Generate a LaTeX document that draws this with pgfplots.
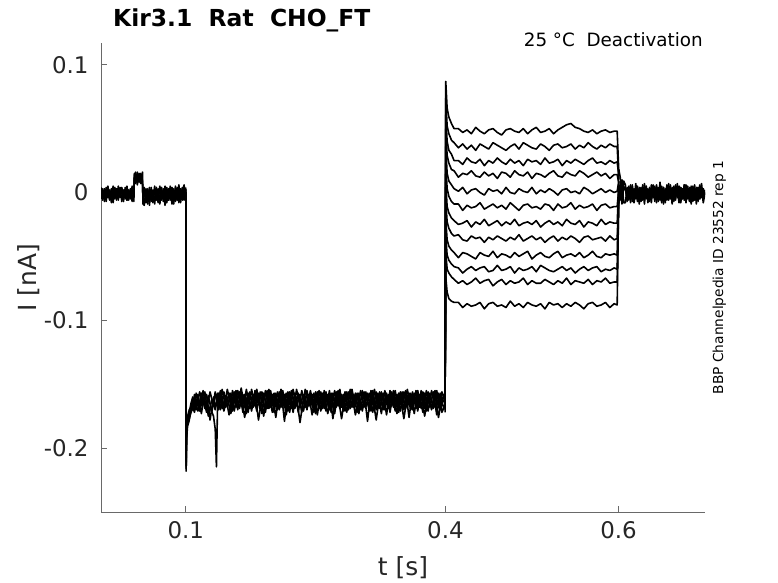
\documentclass[border=0pt]{standalone}
\usepackage{fontspec}
\setmainfont{DejaVu Sans}
\usepackage{pgfplots}
\usepackage{pgfplotstable}
\pgfplotsset{compat=1.18}
\definecolor{tickgray}{RGB}{38,38,38}
\definecolor{axgray}{RGB}{105,105,105}
\pgfplotsset{trace/.style={black, solid, line width=1.6bp, line join=round, no marks}}

% before the hyperpolarising step (t < 0.1 s)
\pgfplotstableread{
t a b c
0.002 0.004 -0.005 0.001
0.004 -0.006 0.003 -0.004
0.006 0.003 -0.007 0.002
0.008 -0.007 0.004 -0.003
0.010 0.005 -0.004 0.000
0.012 -0.005 0.002 -0.006
0.014 0.002 -0.008 0.003
0.016 -0.008 0.005 -0.002
0.018 0.004 -0.005 0.001
0.020 -0.006 0.003 -0.005
0.022 0.005 -0.006 0.002
0.024 -0.004 0.004 -0.003
0.026 0.003 -0.007 0.004
0.028 -0.007 0.002 -0.004
0.030 0.004 -0.005 0.001
0.032 -0.006 0.005 -0.006
0.034 0.002 -0.006 0.002
0.036 -0.005 0.003 -0.002
0.038 0.005 -0.007 0.003
0.040 -0.007 0.002 -0.004
0.0405 0.015 0.010 0.012
0.042 0.007 0.016 0.010
0.044 0.016 0.006 0.013
0.046 0.008 0.015 0.009
0.048 0.015 0.007 0.014
0.050 0.009 0.016 0.006
0.0505 -0.007 -0.009 -0.004
0.052 0.004 -0.010 0.001
0.054 -0.008 0.003 -0.006
0.056 0.003 -0.009 0.002
0.058 -0.010 0.004 -0.003
0.060 0.004 -0.007 0.001
0.062 -0.008 0.002 -0.005
0.064 0.005 -0.009 0.003
0.066 -0.006 0.004 -0.004
0.068 0.003 -0.008 0.002
0.070 -0.009 0.005 -0.006
0.072 0.004 -0.006 0.001
0.074 -0.007 0.003 -0.003
0.076 0.005 -0.010 0.004
0.078 -0.008 0.004 -0.005
0.080 0.003 -0.006 0.002
0.082 -0.006 0.005 -0.004
0.084 0.004 -0.009 0.003
0.086 -0.009 0.003 -0.002
0.088 0.005 -0.007 0.001
0.090 -0.006 0.004 -0.006
0.092 0.006 -0.008 0.002
0.094 -0.008 0.003 -0.004
0.096 0.004 -0.006 0.003
0.098 -0.006 0.006 -0.005
0.0998 0.003 -0.004 0.000
}\pre

% hyperpolarising step (0.1 s to 0.4 s), sweeps a-c
\pgfplotstableread{
t a b c
0.0998 0.003 -0.004 0.000
0.1000 0.000 0.000 0.000
0.1004 -0.218 -0.214 -0.205
0.1008 -0.190 -0.195 -0.185
0.1015 -0.182 -0.180 -0.178
0.1025 -0.176 -0.181 -0.174
0.104 -0.172 -0.177 -0.170
0.106 -0.165 -0.172 -0.168
0.108 -0.160 -0.169 -0.163
0.110 -0.166 -0.158 -0.170
0.112 -0.157 -0.170 -0.162
0.116 -0.168 -0.156 -0.171
0.120 -0.155 -0.166 -0.160
0.124 -0.170 -0.158 -0.172
0.128 -0.156 -0.178 -0.168
0.132 -0.167 -0.160 -0.175
0.134 -0.160 -0.168 -0.185
0.1354 -0.158 -0.165 -0.2146
0.1366 -0.166 -0.157 -0.170
0.140 -0.155 -0.170 -0.158
0.144 -0.169 -0.156 -0.171
0.148 -0.154 -0.168 -0.160
0.152 -0.167 -0.157 -0.173
0.156 -0.156 -0.171 -0.159
0.160 -0.170 -0.155 -0.168
0.164 -0.153 -0.166 -0.158
0.168 -0.168 -0.158 -0.176
0.172 -0.157 -0.172 -0.160
0.176 -0.171 -0.154 -0.169
0.180 -0.155 -0.167 -0.157
0.184 -0.166 -0.157 -0.178
0.188 -0.156 -0.173 -0.161
0.192 -0.172 -0.155 -0.170
0.196 -0.154 -0.169 -0.158
0.200 -0.167 -0.158 -0.172
0.204 -0.157 -0.176 -0.160
0.208 -0.170 -0.156 -0.169
0.212 -0.155 -0.168 -0.157
0.216 -0.169 -0.157 -0.174
0.220 -0.156 -0.172 -0.159
0.224 -0.172 -0.154 -0.168
0.228 -0.154 -0.167 -0.160
0.232 -0.167 -0.158 -0.180
0.236 -0.158 -0.171 -0.161
0.240 -0.170 -0.155 -0.169
0.244 -0.155 -0.168 -0.157
0.248 -0.168 -0.157 -0.172
0.252 -0.156 -0.174 -0.160
0.256 -0.171 -0.156 -0.170
0.260 -0.155 -0.169 -0.158
0.264 -0.166 -0.158 -0.173
0.268 -0.157 -0.172 -0.161
0.272 -0.173 -0.155 -0.168
0.276 -0.155 -0.167 -0.159
0.280 -0.168 -0.158 -0.177
0.284 -0.156 -0.171 -0.160
0.288 -0.170 -0.156 -0.169
0.292 -0.154 -0.168 -0.158
0.296 -0.167 -0.157 -0.174
0.300 -0.157 -0.173 -0.161
0.304 -0.171 -0.155 -0.168
0.308 -0.156 -0.168 -0.158
0.312 -0.169 -0.157 -0.171
0.316 -0.155 -0.172 -0.160
0.320 -0.170 -0.156 -0.178
0.324 -0.156 -0.169 -0.159
0.328 -0.168 -0.157 -0.170
0.332 -0.157 -0.174 -0.161
0.336 -0.172 -0.155 -0.169
0.340 -0.155 -0.168 -0.158
0.344 -0.167 -0.158 -0.173
0.348 -0.156 -0.171 -0.160
0.352 -0.170 -0.156 -0.177
0.356 -0.154 -0.168 -0.159
0.360 -0.168 -0.157 -0.170
0.364 -0.157 -0.173 -0.160
0.368 -0.171 -0.155 -0.168
0.372 -0.155 -0.169 -0.158
0.376 -0.169 -0.157 -0.175
0.380 -0.156 -0.171 -0.160
0.384 -0.170 -0.155 -0.169
0.388 -0.155 -0.168 -0.158
0.392 -0.168 -0.157 -0.176
0.396 -0.156 -0.172 -0.161
0.3996 -0.164 -0.166 -0.165
}\hyp

% hyperpolarising step, sweeps d-e
\pgfplotstableread{
t d e
0.0998 -0.002 0.004
0.1000 0.000 0.000
0.1004 -0.210 -0.216
0.101 -0.188 -0.192
0.102 -0.179 -0.183
0.104 -0.174 -0.178
0.107 -0.170 -0.166
0.110 -0.163 -0.172
0.114 -0.171 -0.158
0.118 -0.157 -0.173
0.122 -0.169 -0.156
0.126 -0.159 -0.175
0.130 -0.172 -0.162
0.134 -0.156 -0.170
0.138 -0.170 -0.157
0.142 -0.154 -0.169
0.146 -0.168 -0.159
0.150 -0.157 -0.174
0.154 -0.171 -0.155
0.158 -0.155 -0.168
0.162 -0.169 -0.156
0.166 -0.158 -0.172
0.170 -0.173 -0.154
0.174 -0.156 -0.169
0.178 -0.168 -0.158
0.182 -0.154 -0.171
0.186 -0.170 -0.156
0.190 -0.157 -0.175
0.194 -0.169 -0.155
0.198 -0.155 -0.168
0.202 -0.172 -0.157
0.206 -0.156 -0.170
0.210 -0.168 -0.154
0.214 -0.158 -0.179
0.218 -0.171 -0.156
0.222 -0.155 -0.169
0.226 -0.169 -0.157
0.230 -0.157 -0.172
0.234 -0.172 -0.155
0.238 -0.154 -0.168
0.242 -0.167 -0.158
0.246 -0.158 -0.174
0.250 -0.173 -0.156
0.254 -0.155 -0.169
0.258 -0.169 -0.157
0.262 -0.156 -0.171
0.266 -0.170 -0.155
0.270 -0.157 -0.177
0.274 -0.168 -0.156
0.278 -0.154 -0.169
0.282 -0.171 -0.158
0.286 -0.156 -0.172
0.290 -0.169 -0.154
0.294 -0.158 -0.168
0.298 -0.172 -0.157
0.302 -0.155 -0.170
0.306 -0.168 -0.156
0.310 -0.157 -0.179
0.314 -0.171 -0.155
0.318 -0.154 -0.168
0.322 -0.169 -0.157
0.326 -0.156 -0.173
0.330 -0.170 -0.155
0.334 -0.158 -0.169
0.338 -0.167 -0.156
0.342 -0.155 -0.171
0.346 -0.172 -0.157
0.350 -0.156 -0.168
0.354 -0.169 -0.155
0.358 -0.157 -0.176
0.362 -0.170 -0.156
0.366 -0.155 -0.169
0.370 -0.168 -0.158
0.374 -0.156 -0.172
0.378 -0.171 -0.155
0.382 -0.157 -0.168
0.386 -0.169 -0.156
0.390 -0.155 -0.174
0.394 -0.170 -0.157
0.398 -0.158 -0.169
0.3996 -0.162 -0.167
}\hypb

% test steps (0.4 s to 0.6 s), twelve sweeps
\pgfplotstableread{
t a b c d e f g h i j k l
0.3996 -0.161 -0.165 -0.158 -0.168 -0.163 -0.170 -0.156 -0.166 -0.162 -0.172 -0.159 -0.164
0.4004 0.087 0.074 0.061 0.050 0.036 0.023 0.008 -0.006 -0.021 -0.034 -0.046 -0.066
0.402 0.066 0.052 0.040 0.029 0.015 0.003 -0.011 -0.023 -0.037 -0.049 -0.060 -0.078
0.404 0.059 0.046 0.033 0.023 0.009 -0.003 -0.016 -0.028 -0.042 -0.053 -0.063 -0.083
0.407 0.054 0.041 0.030 0.018 0.006 -0.007 -0.020 -0.032 -0.045 -0.056 -0.066 -0.085
0.410 0.050 0.039 0.025 0.017 0.003 -0.009 -0.022 -0.034 -0.047 -0.058 -0.068 -0.086
0.415 0.050 0.035 0.025 0.012 0.001 -0.009 -0.025 -0.033 -0.051 -0.059 -0.071 -0.086
0.420 0.047 0.038 0.022 0.015 0.004 -0.014 -0.024 -0.037 -0.047 -0.063 -0.069 -0.090
0.425 0.049 0.034 0.027 0.014 -0.001 -0.010 -0.022 -0.038 -0.048 -0.060 -0.072 -0.087
0.430 0.046 0.037 0.024 0.017 0.002 -0.012 -0.027 -0.034 -0.050 -0.058 -0.070 -0.089
0.435 0.051 0.033 0.023 0.013 0.003 -0.011 -0.023 -0.036 -0.052 -0.061 -0.067 -0.088
0.440 0.048 0.038 0.026 0.012 0.000 -0.008 -0.025 -0.035 -0.047 -0.059 -0.071 -0.086
0.445 0.046 0.036 0.021 0.016 -0.002 -0.013 -0.021 -0.039 -0.049 -0.058 -0.069 -0.091
0.450 0.049 0.034 0.025 0.013 0.003 -0.011 -0.026 -0.035 -0.050 -0.062 -0.068 -0.087
0.455 0.050 0.039 0.023 0.015 0.001 -0.009 -0.024 -0.037 -0.046 -0.061 -0.073 -0.086
0.460 0.047 0.037 0.027 0.011 0.002 -0.012 -0.022 -0.034 -0.051 -0.057 -0.070 -0.089
0.465 0.045 0.035 0.024 0.016 -0.001 -0.010 -0.026 -0.036 -0.048 -0.061 -0.068 -0.088
0.470 0.049 0.033 0.022 0.015 0.004 -0.013 -0.023 -0.038 -0.049 -0.060 -0.072 -0.090
0.475 0.050 0.036 0.026 0.012 0.000 -0.008 -0.025 -0.035 -0.051 -0.058 -0.069 -0.085
0.480 0.048 0.038 0.023 0.017 -0.001 -0.011 -0.021 -0.037 -0.047 -0.063 -0.071 -0.089
0.485 0.047 0.034 0.025 0.014 0.003 -0.014 -0.026 -0.033 -0.050 -0.059 -0.070 -0.087
0.490 0.050 0.039 0.021 0.013 0.001 -0.010 -0.024 -0.038 -0.048 -0.061 -0.067 -0.090
0.495 0.046 0.037 0.026 0.016 0.000 -0.009 -0.023 -0.036 -0.046 -0.060 -0.072 -0.086
0.500 0.049 0.035 0.024 0.011 0.004 -0.012 -0.025 -0.034 -0.052 -0.058 -0.069 -0.088
0.505 0.051 0.034 0.025 0.015 -0.001 -0.011 -0.022 -0.037 -0.049 -0.062 -0.071 -0.089
0.510 0.047 0.038 0.022 0.014 0.002 -0.013 -0.027 -0.035 -0.047 -0.057 -0.071 -0.087
0.515 0.048 0.036 0.027 0.012 0.000 -0.009 -0.024 -0.039 -0.050 -0.059 -0.068 -0.091
0.520 0.050 0.033 0.023 0.015 0.003 -0.010 -0.022 -0.036 -0.051 -0.061 -0.070 -0.086
0.525 0.046 0.037 0.024 0.017 0.001 -0.014 -0.025 -0.034 -0.048 -0.062 -0.072 -0.088
0.530 0.049 0.038 0.026 0.013 -0.002 -0.009 -0.023 -0.038 -0.046 -0.060 -0.069 -0.087
0.535 0.051 0.035 0.021 0.012 0.002 -0.012 -0.026 -0.035 -0.051 -0.058 -0.071 -0.090
0.540 0.053 0.036 0.025 0.016 0.003 -0.011 -0.021 -0.037 -0.049 -0.061 -0.067 -0.087
0.545 0.054 0.038 0.023 0.014 0.000 -0.008 -0.024 -0.034 -0.048 -0.059 -0.072 -0.089
0.550 0.051 0.034 0.026 0.013 0.001 -0.013 -0.025 -0.036 -0.050 -0.063 -0.069 -0.086
0.555 0.050 0.037 0.024 0.017 -0.001 -0.010 -0.022 -0.039 -0.047 -0.060 -0.070 -0.088
0.560 0.048 0.035 0.022 0.015 0.004 -0.012 -0.027 -0.035 -0.051 -0.058 -0.071 -0.091
0.565 0.047 0.039 0.025 0.012 0.002 -0.011 -0.023 -0.034 -0.049 -0.061 -0.068 -0.087
0.570 0.049 0.036 0.027 0.014 -0.001 -0.009 -0.024 -0.037 -0.046 -0.059 -0.072 -0.086
0.575 0.046 0.034 0.023 0.016 0.001 -0.014 -0.026 -0.036 -0.050 -0.058 -0.069 -0.089
0.580 0.048 0.037 0.024 0.013 0.003 -0.010 -0.021 -0.035 -0.051 -0.062 -0.070 -0.088
0.585 0.049 0.035 0.022 0.015 0.000 -0.009 -0.025 -0.038 -0.048 -0.060 -0.067 -0.086
0.590 0.047 0.038 0.025 0.011 0.002 -0.012 -0.023 -0.034 -0.049 -0.061 -0.071 -0.090
0.595 0.048 0.036 0.023 0.014 0.000 -0.011 -0.024 -0.037 -0.048 -0.059 -0.070 -0.087
0.5985 0.048 0.036 0.024 0.014 0.001 -0.011 -0.024 -0.036 -0.049 -0.060 -0.070 -0.088
0.6004 0.016 0.010 0.013 0.007 0.009 0.003 0.006 0.001 -0.002 0.004 -0.004 0.000
}\steps

% after the test steps (t > 0.6 s)
\pgfplotstableread{
t a b c
0.6004 0.018 0.006 -0.008
0.602 0.012 -0.006 0.008
0.604 -0.004 0.010 -0.009
0.606 0.009 -0.008 0.005
0.608 0.006 -0.008 0.002
0.610 -0.007 0.004 -0.005
0.612 0.005 -0.006 0.003
0.614 -0.008 0.006 -0.003
0.616 0.004 -0.007 0.006
0.618 -0.006 0.003 -0.008
0.620 0.007 -0.005 0.001
0.622 -0.005 0.005 -0.007
0.624 0.003 -0.009 0.004
0.626 -0.007 0.004 -0.004
0.628 0.006 -0.006 0.002
0.630 -0.009 0.007 -0.006
0.632 0.005 -0.005 0.005
0.634 -0.006 0.003 -0.008
0.636 0.004 -0.007 0.003
0.638 -0.008 0.006 -0.005
0.640 0.006 -0.004 0.002
0.642 -0.005 0.005 -0.007
0.644 0.003 -0.008 0.006
0.646 -0.007 0.004 -0.003
0.648 0.008 -0.006 0.001
0.650 -0.006 0.005 -0.008
0.652 0.004 -0.009 0.004
0.654 -0.008 0.003 -0.004
0.656 0.005 -0.006 0.006
0.658 -0.005 0.007 -0.006
0.660 0.006 -0.005 0.002
0.662 -0.009 0.004 -0.007
0.664 0.003 -0.007 0.005
0.666 -0.006 0.006 -0.003
0.668 0.007 -0.004 0.001
0.670 -0.007 0.005 -0.008
0.672 0.004 -0.008 0.004
0.674 -0.005 0.003 -0.005
0.676 0.006 -0.006 0.006
0.678 -0.008 0.006 -0.004
0.680 0.005 -0.005 0.002
0.682 -0.006 0.004 -0.007
0.684 0.003 -0.009 0.005
0.686 -0.007 0.005 -0.003
0.688 0.006 -0.006 0.001
0.690 -0.009 0.004 -0.006
0.692 0.004 -0.007 0.004
0.694 -0.005 0.006 -0.005
0.696 0.007 -0.004 0.003
0.698 -0.006 0.003 -0.008
0.700 0.002 -0.002 0.000
}\post

\begin{document}
\begin{tikzpicture}
\begin{axis}[
  at={(101bp,71bp)}, anchor=south west,
  width=604bp, height=469bp, scale only axis,
  xmin=0.002, xmax=0.7, ymin=-0.25, ymax=0.117,
  axis x line*=bottom, axis y line*=left,
  axis line style={draw=axgray, line width=0.7bp, -},
  xtick={0.1,0.4,0.6}, xticklabels={0.1,0.4,0.6},
  ytick={-0.2,-0.1,0,0.1}, yticklabels={-0.2,-0.1,0,0.1},
  /pgf/number format/assume math mode=true,
  tick align=inside, major tick length=6bp,
  tick style={draw=axgray, line width=0.7bp},
  ticklabel style={font=\fontsize{23}{26}\selectfont, text=tickgray},
  xticklabel style={yshift=-6bp},
  yticklabel style={xshift=-9bp},
  xlabel={t [s]}, ylabel={I [nA]},
  xlabel style={at={(axis description cs:0.5,0)}, anchor=base, yshift=-63bp,
    font=\fontsize{25}{28}\selectfont, text=tickgray},
  ylabel style={at={(axis description cs:0,0.5)}, anchor=base, yshift=64bp,
    font=\fontsize{25}{28}\selectfont, text=tickgray},
  clip mode=individual,
]
\addplot[trace] table[x=t,y=a]{\pre};
\addplot[trace] table[x=t,y=b]{\pre};
\addplot[trace] table[x=t,y=c]{\pre};
\addplot[trace] table[x=t,y=a]{\hyp};
\addplot[trace] table[x=t,y=b]{\hyp};
\addplot[trace] table[x=t,y=c]{\hyp};
\addplot[trace] table[x=t,y=d]{\hypb};
\addplot[trace] table[x=t,y=e]{\hypb};
\addplot[trace] table[x=t,y=a]{\steps};
\addplot[trace] table[x=t,y=b]{\steps};
\addplot[trace] table[x=t,y=c]{\steps};
\addplot[trace] table[x=t,y=d]{\steps};
\addplot[trace] table[x=t,y=e]{\steps};
\addplot[trace] table[x=t,y=f]{\steps};
\addplot[trace] table[x=t,y=g]{\steps};
\addplot[trace] table[x=t,y=h]{\steps};
\addplot[trace] table[x=t,y=i]{\steps};
\addplot[trace] table[x=t,y=j]{\steps};
\addplot[trace] table[x=t,y=k]{\steps};
\addplot[trace] table[x=t,y=l]{\steps};
\addplot[trace] table[x=t,y=a]{\post};
\addplot[trace] table[x=t,y=b]{\post};
\addplot[trace] table[x=t,y=c]{\post};
\node[anchor=base west, inner sep=0pt, font=\fontsize{23.5}{26}\selectfont\bfseries]
  at (axis description cs:0.0199,1.0341) {Kir3.1\ \ Rat\ \ CHO\_FT};
\node[anchor=base east, inner sep=0pt, font=\fontsize{18.4}{21}\selectfont]
  at (axis description cs:0.9967,0.9915) {25~°C\ \ Deactivation};
\node[anchor=base, inner sep=0pt, rotate=90, font=\fontsize{13.8}{16}\selectfont]
  at (axis description cs:1.0298,0.5) {BBP Channelpedia ID 23552 rep 1};
\end{axis}
\pgfresetboundingbox
\useasboundingbox (0,0) rectangle (778bp,583bp);
\end{tikzpicture}
\end{document}
